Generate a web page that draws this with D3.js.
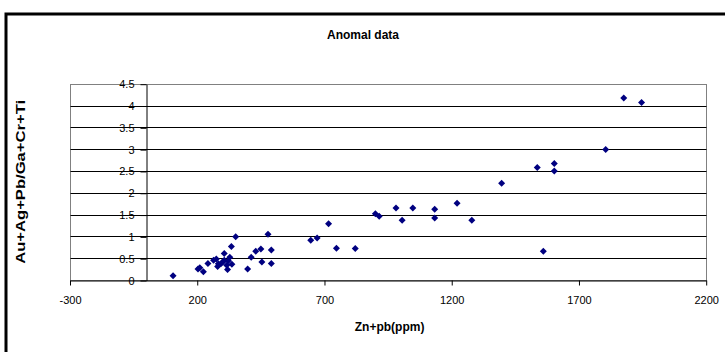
<!DOCTYPE html>
<html><head><meta charset="utf-8">
<script src="https://cdn.jsdelivr.net/npm/d3@7"></script>
<style>
html,body{margin:0;padding:0;background:#fff;}
svg{display:block;font-family:"Liberation Sans",Arial,sans-serif;}
</style></head>
<body>
<svg id="chart" width="725" height="352"></svg>
<script>
const chartTitle = "Anomal data";
const xTitle = "Zn+pb(ppm)";
const yTitle = "Au+Ag+Pb/Ga+Cr+Ti";
const xTicks = [-300, 200, 700, 1200, 1700, 2200];
const yTicks = [0, 0.5, 1, 1.5, 2, 2.5, 3, 3.5, 4, 4.5];
const xValues = [107,205,212,226,244,266,277,282,285,295,302,308,308,318,321,324,330,336,338,353,
  400,414,432,452,456,480,493,493,648,673,718,749,823,902,917,983,1007,1049,1135,1135,
  1223,1281,1398,1538,1562,1605,1605,1807,1878,1948];
const yValues = [0.10,0.25,0.28,0.19,0.38,0.45,0.48,0.31,0.37,0.37,0.41,0.45,0.61,0.34,0.24,0.44,0.52,0.77,0.36,0.99,
  0.25,0.52,0.66,0.71,0.41,1.05,0.69,0.38,0.91,0.96,1.29,0.73,0.72,1.52,1.46,1.65,1.37,1.65,1.62,1.42,
  1.76,1.37,2.22,2.58,0.66,2.67,2.50,2.99,4.17,4.07];

const svg = d3.select("#chart");
const L = 69.5, R = 705.7, T = 83.7, B = 280;
const x = d3.scaleLinear().domain([-300, 2200]).range([L, R]);
const y = d3.scaleLinear().domain([0, 4.5]).range([B, T]);
const cx = v => Math.round(x(v)) + 0.5;
const cy = v => Math.round(y(v)) + 0.5;

// outer frame
svg.append("rect").attr("x", 6).attr("y", 14).attr("width", 900).attr("height", 600)
  .attr("fill", "none").attr("stroke", "#000").attr("stroke-width", 3);

// title
svg.append("text").attr("x", 363).attr("y", 39).attr("text-anchor", "middle")
  .attr("font-size", 12).attr("font-weight", "bold").text(chartTitle);

// plot border
svg.append("rect").attr("x", cx(-300)).attr("y", cy(4.5))
  .attr("width", cx(2200) - cx(-300)).attr("height", cy(0) - cy(4.5))
  .attr("fill", "none").attr("stroke", "#808080").attr("stroke-width", 1);

// gridlines
svg.append("g").selectAll("line").data(yTicks.filter(d => d > 0 && d < 4.5)).join("line")
  .attr("x1", cx(-300)).attr("x2", cx(2200)).attr("y1", d => cy(d)).attr("y2", d => cy(d))
  .attr("stroke", "#000").attr("stroke-width", 1);

// x axis
const xAxis = d3.axisBottom(x).tickValues(xTicks).tickSize(5).tickSizeOuter(0).tickPadding(11)
  .tickFormat(d => String(d));
const gx = svg.append("g").attr("transform", `translate(0.5,${Math.round(y(0)) + 0.5})`).call(xAxis);
gx.select(".domain").attr("stroke", "#000");
gx.selectAll(".tick line").attr("stroke", "#000");
gx.selectAll(".tick text").attr("font-size", 11).attr("fill", "#000")
  .attr("font-family", "'Liberation Sans', Arial, sans-serif");

// y axis at x = 0
const yAxis = d3.axisLeft(y).tickValues(yTicks).tickSize(6).tickSizeOuter(0).tickPadding(6)
  .tickFormat(d => String(d));
const gy = svg.append("g").attr("transform", `translate(${Math.round(x(0)) + 0.5},0.5)`).call(yAxis);
gy.select(".domain").attr("stroke", "#000");
gy.selectAll(".tick line").attr("stroke", "#000");
gy.selectAll(".tick text").attr("font-size", 11).attr("fill", "#000")
  .attr("font-family", "'Liberation Sans', Arial, sans-serif");

// points
const pts = xValues.map((v, i) => [v, yValues[i]]);
const s = 3.5;
svg.append("g").selectAll("path").data(pts).join("path")
  .attr("transform", d => `translate(${x(d[0])},${y(d[1])})`)
  .attr("d", `M0,${-s}L${s},0L0,${s}L${-s},0Z`)
  .attr("fill", "#000080");

// axis titles
svg.append("text").attr("x", (L + R) / 2 + 2).attr("y", 331).attr("text-anchor", "middle")
  .attr("font-size", 12).attr("font-weight", "bold").text(xTitle);
svg.append("text").attr("transform", `translate(25,${(T + B) / 2}) rotate(-90)`)
  .attr("text-anchor", "middle").attr("font-size", 13).attr("font-weight", "bold")
  .attr("textLength", 164).attr("lengthAdjust", "spacingAndGlyphs").text(yTitle);
</script>
</body></html>
